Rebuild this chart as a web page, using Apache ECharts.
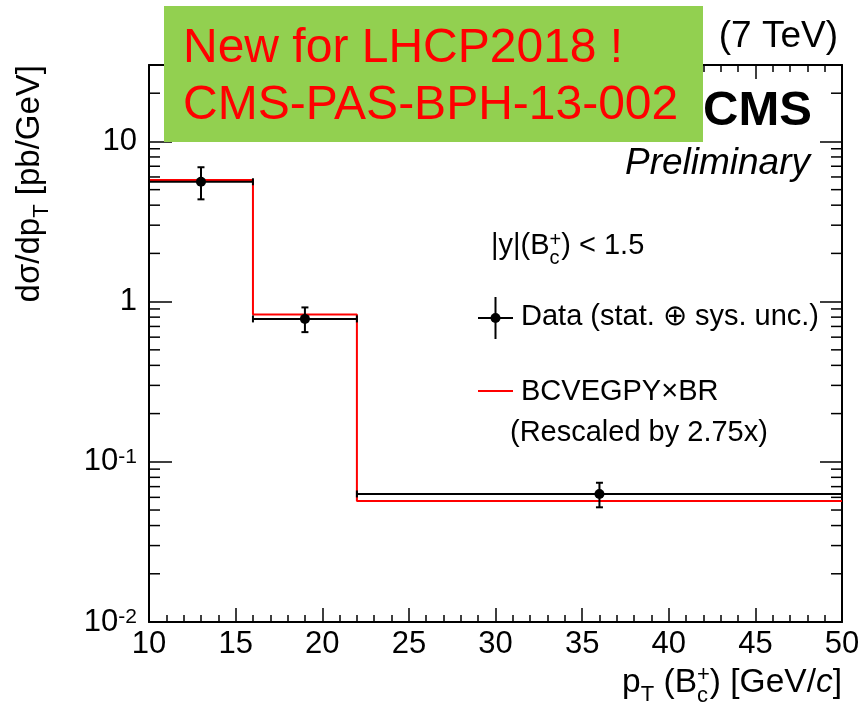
<!DOCTYPE html>
<html>
<head>
<meta charset="utf-8">
<script src="https://cdn.jsdelivr.net/npm/echarts@6/dist/echarts.min.js"></script>
<style>
  html, body { margin: 0; padding: 0; background: #ffffff; }
  #chart { width: 859px; height: 711px; }
</style>
</head>
<body>
<div id="chart"></div>
<script>
// Differential B_c+ cross section vs pT, |y| < 1.5
const binEdges = [10, 16, 22, 50];           // GeV/c
const binCenters = [13, 19, 36];
const dataValues = [5.6, 0.78, 0.063];       // pb/GeV
const dataErrLow = [4.35, 0.645, 0.052];     // lower end of stat (+) sys band
const dataErrHigh = [6.9, 0.92, 0.074];      // upper end of stat (+) sys band
const theoryValues = [5.75, 0.83, 0.057];    // BCVEGPY x BR, rescaled

// Axis ranges and tick labels
const xMin = 10, xMax = 50, xStep = 5;
const yMin = 0.01, yMax = 30;
const yDecades = [0.01, 0.1, 1, 10];
const yLabelBase = ['10', '10', '1', '10'];
const yLabelExp = ['-2', '-1', '', ''];

const FONT = '"Liberation Sans", Arial, Helvetica, sans-serif';
const RED = '#ff0000';

// minor log ticks 2..9 x 10^k inside the frame
const yMinor = [];
for (let e = -2; e <= 1; e++) {
  for (let m = 2; m <= 9; m++) {
    const v = m * Math.pow(10, e);
    if (v < yMax) yMinor.push(+v.toPrecision(3));
  }
}

// --- text runs with sub/superscripts, laid out with canvas metrics ---
const mctx = document.createElement('canvas').getContext('2d');
function fontStr(size, italic, bold) {
  return (italic ? 'italic ' : '') + (bold ? 'bold ' : '') + size + 'px ' + FONT;
}
function measure(t, size, italic, bold) {
  mctx.font = fontStr(size, italic, bold);
  return mctx.measureText(t).width;
}
// (x, y) is the baseline anchor; parts: {t, size, dy, italic, bold, stack}
function textRun(x, y, parts, opts) {
  const o = Object.assign({ align: 'left', rotation: 0, size: 30, color: '#000', z: 5 }, opts || {});
  let cursor = 0, prevX = 0, prevW = 0;
  const items = [];
  parts.forEach(p => {
    const s = p.size || o.size;
    const w = measure(p.t, s, p.italic, p.bold);
    let px;
    if (p.stack) {
      px = prevX;
      prevW = Math.max(prevW, w);
      cursor = prevX + prevW;
    } else {
      px = cursor;
      prevX = px;
      prevW = w;
      cursor += w;
    }
    items.push({ px, s, p });
  });
  const total = cursor;
  const off = o.align === 'right' ? -total : (o.align === 'center' ? -total / 2 : 0);
  return {
    type: 'group', x, y, rotation: o.rotation, silent: true, z: o.z,
    children: items.map(({ px, s, p }) => ({
      type: 'text',
      z: o.z,
      x: px + off,
      y: (p.dy || 0) - 0.3465 * s,
      style: {
        text: p.t,
        fontSize: s,
        fontFamily: FONT,
        fontStyle: p.italic ? 'italic' : 'normal',
        fontWeight: p.bold ? 'bold' : 'normal',
        fill: p.color || o.color,
        align: 'left',
        verticalAlign: 'middle'
      }
    }))
  };
}

const chart = echarts.init(document.getElementById('chart'), null, { renderer: 'canvas' });

const frameLine = { show: true, onZero: false, lineStyle: { color: '#000', width: 2 } };

function yLabel(v) {
  const lv = Math.log10(v);
  const k = Math.round(lv);
  if (Math.abs(lv - k) > 1e-6) return '';
  const i = yDecades.findIndex(d => Math.round(Math.log10(d)) === k);
  if (i < 0) return '';
  return yLabelExp[i] ? '{b|' + yLabelBase[i] + '}{s|' + yLabelExp[i] + '}' : '{b|' + yLabelBase[i] + '}';
}

const stepPoints = binEdges.map((e, i) => [e, theoryValues[Math.min(i, theoryValues.length - 1)]]);
const dataItems = binCenters.map((c, i) => [c, dataValues[i], dataErrLow[i], dataErrHigh[i], binEdges[i], binEdges[i + 1]]);

const option = {
  backgroundColor: '#ffffff',
  animation: false,
  grid: { left: 149, top: 65, right: 17, bottom: 89, containLabel: false, outerBoundsMode: 'none' },
  xAxis: [
    {
      type: 'value', position: 'bottom', min: xMin, max: xMax, interval: xStep,
      axisLine: frameLine,
      axisTick: { show: true, inside: true, length: 14, lineStyle: { color: '#000', width: 1.5 } },
      minorTick: { show: true, splitNumber: 5, length: 7, lineStyle: { color: '#000', width: 1.5 } },
      splitLine: { show: false },
      axisLabel: { show: true, margin: 7, color: '#000', fontSize: 31, fontFamily: FONT, showMinLabel: true, showMaxLabel: true }
    },
    {
      type: 'value', position: 'top', min: xMin, max: xMax, interval: xStep,
      axisLine: frameLine,
      axisTick: { show: true, inside: true, length: 14, lineStyle: { color: '#000', width: 1.5 } },
      minorTick: { show: true, splitNumber: 5, length: 7, lineStyle: { color: '#000', width: 1.5 } },
      splitLine: { show: false },
      axisLabel: { show: false }
    }
  ],
  yAxis: [
    {
      type: 'log', logBase: 10, position: 'left', min: yMin, max: yMax,
      axisLine: frameLine,
      axisTick: { show: true, inside: true, length: 23, lineStyle: { color: '#000', width: 1.5 } },
      minorTick: { show: false },
      splitLine: { show: false },
      axisLabel: {
        show: true, margin: 12, color: '#000', formatter: yLabel,
        rich: {
          b: { fontSize: 31, fontFamily: FONT, color: '#000', lineHeight: 31, verticalAlign: 'bottom' },
          s: { fontSize: 21, fontFamily: FONT, color: '#000', lineHeight: 21, verticalAlign: 'top' }
        }
      }
    },
    {
      type: 'log', logBase: 10, position: 'right', min: yMin, max: yMax,
      axisLine: frameLine,
      axisTick: { show: true, inside: true, length: 22, lineStyle: { color: '#000', width: 1.5 } },
      minorTick: { show: false },
      splitLine: { show: false },
      axisLabel: { show: false }
    }
  ],
  series: [
    {
      // minor log ticks on both vertical frame edges
      type: 'custom', name: 'yMinorTicks', xAxisIndex: 0, yAxisIndex: 0, silent: true, clip: false, z: 1,
      data: yMinor.map(v => [xMin, v]),
      renderItem(params, api) {
        const v = api.value(1);
        const l = api.coord([xMin, v]);
        const r = api.coord([xMax, v]);
        const st = { stroke: '#000', lineWidth: 1.5 };
        return {
          type: 'group', children: [
            { type: 'line', shape: { x1: l[0], y1: l[1], x2: l[0] + 11, y2: l[1] }, style: st },
            { type: 'line', shape: { x1: r[0] - 11, y1: r[1], x2: r[0], y2: r[1] }, style: st }
          ]
        };
      }
    },
    {
      type: 'line', name: 'BCVEGPY x BR', xAxisIndex: 0, yAxisIndex: 0,
      step: 'end', data: stepPoints, symbol: 'none', silent: true, z: 2,
      lineStyle: { color: RED, width: 2 }
    },
    {
      type: 'custom', name: 'Data', xAxisIndex: 0, yAxisIndex: 0, silent: true, clip: false, z: 3,
      data: dataItems,
      encode: { x: 0, y: 1 },
      renderItem(params, api) {
        const c = api.coord([api.value(0), api.value(1)]);
        const l = api.coord([api.value(4), api.value(1)]);
        const r = api.coord([api.value(5), api.value(1)]);
        const lo = api.coord([api.value(0), api.value(2)]);
        const hi = api.coord([api.value(0), api.value(3)]);
        const st = { stroke: '#000', lineWidth: 2 };
        const cap = 3.5, end = 3.5;
        return {
          type: 'group', children: [
            { type: 'line', shape: { x1: l[0], y1: l[1], x2: r[0], y2: r[1] }, style: st },
            { type: 'line', shape: { x1: l[0], y1: l[1] - end, x2: l[0], y2: l[1] + end }, style: st },
            { type: 'line', shape: { x1: r[0], y1: r[1] - end, x2: r[0], y2: r[1] + end }, style: st },
            { type: 'line', shape: { x1: lo[0], y1: lo[1], x2: hi[0], y2: hi[1] }, style: st },
            { type: 'line', shape: { x1: lo[0] - cap, y1: lo[1], x2: lo[0] + cap, y2: lo[1] }, style: st },
            { type: 'line', shape: { x1: hi[0] - cap, y1: hi[1], x2: hi[0] + cap, y2: hi[1] }, style: st },
            { type: 'circle', shape: { cx: c[0], cy: c[1], r: 5 }, style: { fill: '#000' } }
          ]
        };
      }
    }
  ],
  graphic: [
    // axis titles
    textRun(842, 694, [
      { t: 'p' }, { t: 'T', size: 22, dy: 9 }, { t: ' (B' },
      { t: '+', size: 22, dy: -11 }, { t: 'c', size: 22, dy: 10, stack: true },
      { t: ') [GeV/' }, { t: 'c', italic: true }, { t: ']' }
    ], { align: 'right', size: 33.5 }),
    textRun(41, 65, [
      { t: 'd\u03c3/dp' }, { t: 'T', size: 22, dy: 9 }, { t: ' [pb/GeV]' }
    ], { align: 'right', size: 33, rotation: Math.PI / 2 }),

    // header texts
    textRun(838, 50, [{ t: '(7 TeV)' }], { align: 'right', size: 37 }),
    textRun(812, 128, [{ t: 'CMS', bold: true }], { align: 'right', size: 49 }),
    textRun(810, 177, [{ t: 'Preliminary', italic: true }], { align: 'right', size: 37 }),

    // announcement box
    { type: 'rect', shape: { x: 164, y: 6, width: 539, height: 136 }, style: { fill: '#92d050' }, z: 10, silent: true },
    textRun(183, 65, [{ t: 'New for LHCP2018 !' }], { size: 48, color: RED, z: 20 }),
    textRun(183, 122, [{ t: 'CMS-PAS-BPH-13-002' }], { size: 48, color: RED, z: 20 }),

    // legend
    textRun(491, 256, [
      { t: '|y|(B' }, { t: '+', size: 20, dy: -9 }, { t: 'c', size: 20, dy: 9, stack: true },
      { t: ') < 1.5' }
    ], { size: 29 }),
    { type: 'line', shape: { x1: 478, y1: 318, x2: 513, y2: 318 }, style: { stroke: '#000', lineWidth: 2 }, silent: true },
    { type: 'line', shape: { x1: 495.5, y1: 297, x2: 495.5, y2: 339 }, style: { stroke: '#000', lineWidth: 2 }, silent: true },
    { type: 'circle', shape: { cx: 495.5, cy: 318, r: 5 }, style: { fill: '#000' }, silent: true },
    textRun(521, 327, [{ t: 'Data (stat. \u2295 sys. unc.)' }], { size: 29 }),
    { type: 'line', shape: { x1: 478, y1: 391, x2: 513, y2: 391 }, style: { stroke: RED, lineWidth: 2 }, silent: true },
    textRun(521, 402, [{ t: 'BCVEGPY\u00d7BR' }], { size: 29 }),
    textRun(510, 443, [{ t: '(Rescaled by 2.75x)' }], { size: 29 })
  ]
};

chart.setOption(option);
</script>
</body>
</html>
